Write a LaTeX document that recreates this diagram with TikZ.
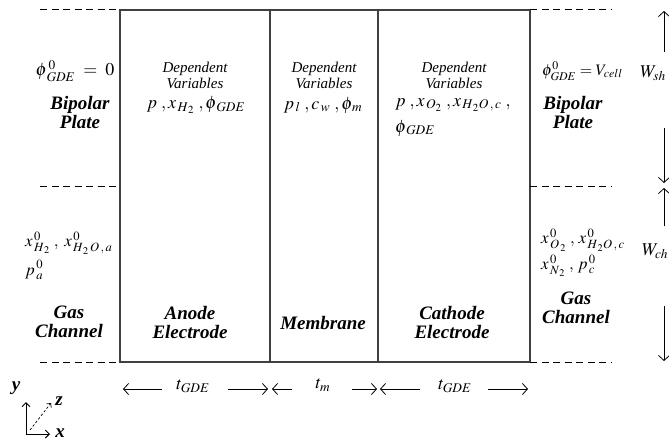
\documentclass[tikz,border=0pt]{standalone}
\usepackage{mathptmx}
\usepackage{fontspec}
\setmainfont{Liberation Serif}
\usetikzlibrary{arrows.meta}
\begin{document}
\begin{tikzpicture}[x=1pt,y=-1pt,
  boxline/.style={line width=1.2pt,draw=black!75},
  dashline/.style={line width=1pt,dash pattern=on 7pt off 4.5pt},
  arr/.style={-{Straight Barb[length=5pt,width=11pt]},line width=0.8pt},
  lbl/.style={font=\fontsize{19}{19}\selectfont\bfseries\itshape,align=center,inner sep=0pt},
  dep/.style={font=\fontsize{15}{16}\selectfont\itshape,align=center,inner sep=0pt},
  mth/.style={font=\fontsize{18}{20}\selectfont,inner sep=0pt},
  mths/.style={font=\fontsize{17}{20}\selectfont,inner sep=0pt},
  mthr/.style={font=\fontsize{16}{20}\selectfont,inner sep=0pt},
  dim/.style={font=\fontsize{18}{20}\selectfont,inner sep=0pt}]
\useasboundingbox (0,0) rectangle (669,441);
% main box
\coordinate (tl) at (120,10); \coordinate (br) at (530,362);
\draw[boxline] (tl) rectangle (br);
\coordinate (m1t) at (270,10); \coordinate (m1b) at (270,362);
\coordinate (m2t) at (378,10); \coordinate (m2b) at (378,362);
\draw[boxline] (m1t) -- (m1b);
\draw[boxline] (m2t) -- (m2b);
% dashed lines
\coordinate (dl1) at (40,10);  \coordinate (dr1) at (612,10);
\coordinate (dl2) at (40,186); \coordinate (dr2) at (612,186);
\coordinate (dl3) at (40,362); \coordinate (dr3) at (612,362);
\coordinate (bl2) at (120,186); \coordinate (bre2) at (530,186);
\coordinate (bre1) at (530,10); \coordinate (bre3) at (530,362);
\coordinate (bl3) at (120,362);
\draw[dashline] (dl1) -- (tl);
\draw[dashline] (bre1) -- (dr1);
\draw[dashline] (dl2) -- (bl2);
\draw[dashline] (bre2) -- (dr2);
\draw[dashline] (dl3) -- (bl3);
\draw[dashline] (bre3) -- (dr3);
% left column
\node[mth] (phiL) at (75,71) {$\phi^{\,0}_{\,GDE}\;=\;0$};
\node[lbl] (bpL) at (80,113) {Bipolar\\Plate};
\node[mths,anchor=west] (xL1) at (25,243) {$x^{\,0}_{\,H_{\,2}}\;,\;x^{\,0}_{\,H_{\,2}\,O\,,\,a}$};
\node[mths,anchor=west] (xL2) at (25,270) {$p^{\,0}_{\,a}$};
\node[lbl] (gcL) at (69,322) {Gas\\Channel};
% anode
\node[dep] (depA) at (195,75) {Dependent\\Variables};
\node[mth] (varA) at (196,105) {$p\;,x_{\,H_{\,2}}\;,\phi_{\,GDE}$};
\node[lbl] (anode) at (190,322) {Anode\\Electrode};
% membrane
\node[dep] (depM) at (324,75) {Dependent\\Variables};
\node[mth] (varM) at (323,105) {$p_{\,l}\;,c_{\,w}\;,\phi_{\,m}$};
\node[lbl] (memb) at (323,323) {Membrane};
% cathode
\node[dep] (depC) at (454,75) {Dependent\\Variables};
\node[mth,anchor=west] (varC1) at (395,105) {$p\;,x_{\,O_{2}}\;,x_{\,H_{\,2}O\,,\,c}\;,$};
\node[mth,anchor=west] (varC2) at (395,128) {$\phi_{\,GDE}$};
\node[lbl] (cathode) at (452,322) {Cathode\\Electrode};
% right column
\node[mthr,anchor=west] (phiR) at (542,71) {$\phi^{0}_{GDE}=V_{cell}$};
\node[lbl] (bpR) at (573,113) {Bipolar\\Plate};
\node[mths,anchor=west] (xR1) at (541,240) {$x^{\,0}_{\,O_{\,2}}\;,\,x^{\,0}_{\,H_{\,2}O\,,\,c}$};
\node[mths,anchor=west] (xR2) at (541,266) {$x^{\,0}_{\,N_{\,2}}\;,\,p^{\,0}_{\,c}$};
\node[lbl] (gcR) at (576,308) {Gas\\Channel};
% right dimension arrows
\node[dim] (Wsh) at (653,73) {$W_{sh}$};
\node[dim] (Wch) at (655,251) {$W_{ch}$};
\coordinate (a1s) at (664,52);  \coordinate (a1e) at (664,11);
\coordinate (a2s) at (664,128); \coordinate (a2e) at (664,183);
\coordinate (a3s) at (664,226); \coordinate (a3e) at (664,188);
\coordinate (a4s) at (664,306); \coordinate (a4e) at (664,361);
\draw[arr] (a1s) -- (a1e);
\draw[arr] (a2s) -- (a2e);
\draw[arr] (a3s) -- (a3e);
\draw[arr] (a4s) -- (a4e);
% bottom dimension arrows
\node[dim] (tA) at (193,386) {$t_{GDE}$};
\node[dim] (tM) at (323,385) {$t_{m}$};
\node[dim] (tC) at (455,386) {$t_{GDE}$};
\coordinate (b1s) at (162,389); \coordinate (b1e) at (123,389);
\coordinate (b2s) at (228,389); \coordinate (b2e) at (268,389);
\coordinate (b3s) at (292,389); \coordinate (b3e) at (272,389);
\coordinate (b4s) at (352,389); \coordinate (b4e) at (377,389);
\coordinate (b5s) at (420,389); \coordinate (b5e) at (380,389);
\coordinate (b6s) at (488,389); \coordinate (b6e) at (528,389);
\draw[arr] (b1s) -- (b1e);
\draw[arr] (b2s) -- (b2e);
\draw[arr] (b3s) -- (b3e);
\draw[arr] (b4s) -- (b4e);
\draw[arr] (b5s) -- (b5e);
\draw[arr] (b6s) -- (b6e);
% axes
\coordinate (o) at (26,434);
\coordinate (oy) at (26,402);
\coordinate (ox) at (50,434);
\coordinate (oz0) at (30,430);
\coordinate (oz) at (51,403);
\draw[-{Straight Barb[length=4pt,width=8pt]},line width=0.9pt] (o) -- (oy);
\draw[-{Straight Barb[length=4pt,width=8pt]},line width=0.9pt] (o) -- (ox);
\draw[-{Straight Barb[length=3pt,width=6pt]},line width=0.7pt,dash pattern=on 2.5pt off 2pt] (oz0) -- (oz);
\node[lbl] (ly) at (16,388) {y};
\node[lbl] (lz) at (59,401) {z};
\node[lbl] (lx) at (60,433) {x};
\end{tikzpicture}
\end{document}
